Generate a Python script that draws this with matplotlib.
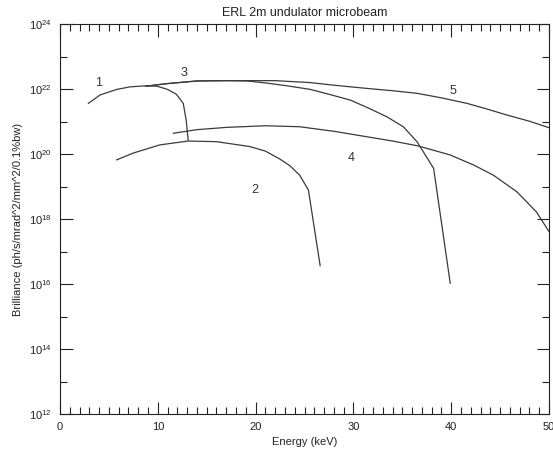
import numpy as np
from matplotlib import pyplot as plt
from matplotlib.ticker import FixedLocator, MultipleLocator, NullFormatter

# energy (keV) and log10 of brilliance
E1 = [2.9, 4.1, 5.8, 7.2, 8.8, 9.9, 11.0, 11.9, 12.6, 12.9, 13.1]
logB1 = [21.57, 21.83, 22.00, 22.08, 22.11, 22.10, 22.00, 21.85, 21.57, 21.06, 20.44]

E2 = [5.8, 7.5, 10.2, 13.1, 16.0, 19.4, 21.0, 22.5, 23.5, 24.5, 25.4, 26.6]
logB2 = [19.83, 20.04, 20.29, 20.41, 20.39, 20.24, 20.10, 19.85, 19.65, 19.36, 18.90, 16.57]

E3 = [8.8, 11.0, 14.0, 17.0, 19.1, 21.0, 23.0, 25.6, 27.5, 29.7, 31.5, 33.4,
      35.1, 36.5, 38.2, 39.9]
logB3 = [22.10, 22.18, 22.26, 22.27, 22.26, 22.20, 22.12, 22.00, 21.85, 21.67,
         21.43, 21.16, 20.85, 20.39, 19.57, 16.03]

E4 = [11.6, 14.0, 17.0, 21.0, 24.5, 28.0, 31.4, 34.0, 36.6, 39.9, 42.3, 44.3,
      46.7, 48.7, 50.0]
logB4 = [20.65, 20.76, 20.83, 20.88, 20.85, 20.71, 20.54, 20.41, 20.26, 19.98,
         19.67, 19.36, 18.85, 18.23, 17.62]

E5 = [8.8, 11.0, 14.0, 17.0, 19.1, 22.0, 25.6, 28.0, 31.4, 34.0, 36.5, 39.0,
      41.6, 43.5, 45.7, 48.0, 50.0]
logB5 = [22.10, 22.18, 22.26, 22.27, 22.27, 22.27, 22.21, 22.13, 22.03, 21.96,
         21.88, 21.74, 21.57, 21.41, 21.21, 21.02, 20.82]

labels = ["1", "2", "3", "4", "5"]
label_pos = [(3.9, 10**22.2), (19.9, 10**18.9), (12.7, 10**22.5),
             (29.8, 10**19.9), (40.2, 10**21.95)]

plt.rcParams['font.family'] = ['Liberation Sans', 'DejaVu Sans']
fig = plt.figure(figsize=(5.53, 4.51), dpi=100)
ax = fig.add_axes([0.1085, 0.082, 0.8843, 0.8637])

for E, logB in [(E1, logB1), (E2, logB2), (E3, logB3), (E4, logB4), (E5, logB5)]:
    ax.plot(E, 10 ** np.array(logB), color="#3a3a3a", lw=0.9)

for lab, (x, y) in zip(labels, label_pos):
    ax.text(x, y, lab, fontsize=9, color="#333333", ha="center", va="center")

ax.set_yscale("log")
ax.set_xlim(0, 50)
ax.set_ylim(1e12, 1e24)
ax.xaxis.set_major_locator(MultipleLocator(10))
ax.xaxis.set_minor_locator(MultipleLocator(1))
ax.yaxis.set_major_locator(FixedLocator([10.0 ** k for k in range(12, 25, 2)]))
ax.yaxis.set_minor_locator(FixedLocator([10.0 ** k for k in range(13, 24, 2)]))
ax.yaxis.set_minor_formatter(NullFormatter())
ax.tick_params(which="both", direction="in", top=True, right=True,
               labelsize=8, colors="#222222", pad=6, width=0.8)
ax.tick_params(which="major", length=9)
ax.tick_params(which="minor", length=5)
for s in ax.spines.values():
    s.set_linewidth(0.8)
    s.set_color("#222222")

ax.set_title("ERL 2m undulator microbeam", fontsize=9, color="#222222", pad=6)
ax.set_xlabel("Energy (keV)", fontsize=8, color="#222222", labelpad=3)
ax.set_ylabel("Brilliance (ph/s/mrad^2/mm^2/0.1%bw)", fontsize=8,
              color="#222222", labelpad=4)

fig.savefig("out.png", dpi=100)
